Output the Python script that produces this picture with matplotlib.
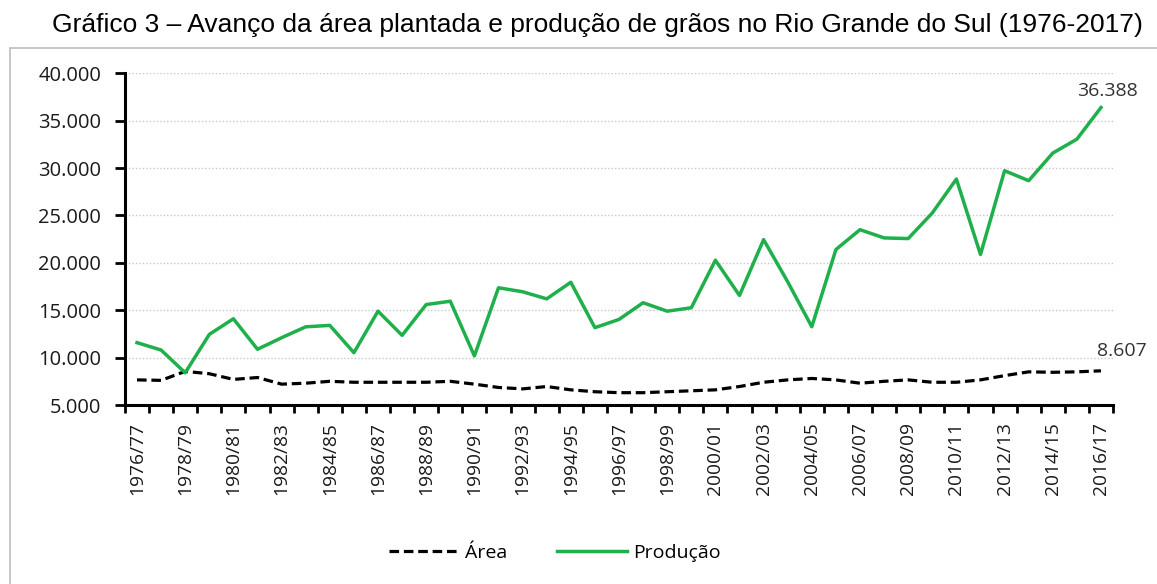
import numpy as np
import matplotlib
matplotlib.use('Agg')
import matplotlib.pyplot as plt
from matplotlib.patches import Rectangle
from matplotlib.ticker import FuncFormatter, FixedLocator

TITLE = 'Gráfico 3 – Avanço da área plantada e produção de grãos no Rio Grande do Sul (1976-2017)'

# safras 1976/77 .. 2016/17
SAFRAS = ['{}/{:02d}'.format(y, (y + 1) % 100) for y in range(1976, 2017)]

# mil hectares
AREA = [7650, 7600, 8550, 8300, 7700, 7900, 7200, 7300, 7500, 7400,
        7400, 7400, 7400, 7500, 7200, 6850, 6700, 6950, 6600, 6400,
        6300, 6300, 6400, 6500, 6600, 6950, 7400, 7650, 7800, 7650,
        7300, 7500, 7650, 7400, 7400, 7650, 8100, 8500, 8450, 8500,
        8607]

# mil toneladas
PRODUCAO = [11580, 10800, 8400, 12450, 14100, 10880, 12100, 13250, 13400, 10520,
            14900, 12350, 15600, 15950, 10180, 17370, 16950, 16200, 17950, 13160,
            14030, 15790, 14900, 15260, 20280, 16560, 22450, 18000, 13260, 21400,
            23500, 22630, 22560, 25260, 28840, 20880, 29720, 28670, 31580, 33050,
            36388]

GREEN = '#1fb04c'
FONT = 'Open Sans'

#------------------------------------------------------------------------------
def thousands(v, pos):
  return '{:,.0f}'.format(v).replace(',', '.')

#------------------------------------------------------------------------------
def main():
  fig = plt.figure(figsize=(11.57, 5.84), dpi=100)
  ax = fig.add_axes([0.108, 0.3065, 0.854, 0.568])

  x = np.arange(len(SAFRAS))
  ax.plot(x, AREA, color='black', lw=2.3, ls=(0, (3.0, 1.5)), label='Área')
  ax.plot(x, PRODUCAO, color=GREEN, lw=2.5, label='Produção')

  ax.annotate(thousands(PRODUCAO[-1], 0), (x[-1], PRODUCAO[-1]), xytext=(5, 12),
              textcoords='offset points', ha='center', va='center',
              fontsize=14, color='#333333', family=FONT)
  ax.annotate(thousands(AREA[-1], 0), (x[-1], AREA[-1]), xytext=(15, 14),
              textcoords='offset points', ha='center', va='center',
              fontsize=14, color='#333333', family=FONT)

  ax.set_xlim(-0.5, len(SAFRAS) - 0.5)
  ax.set_ylim(5000, 40000)
  ax.set_yticks(np.arange(5000, 40001, 5000))
  ax.yaxis.set_major_formatter(FuncFormatter(thousands))
  ax.yaxis.grid(True, color='#c8c8c8', ls=(0, (1, 1.5)), lw=1.0)
  ax.set_axisbelow(True)

  ax.xaxis.set_major_locator(FixedLocator(np.arange(-0.5, len(SAFRAS), 1)))
  ax.xaxis.set_minor_locator(FixedLocator(x[::2]))
  ax.set_xticklabels([])
  ax.set_xticklabels(SAFRAS[::2], minor=True, rotation=90, fontsize=13.8, family=FONT,
                     color='#1a1a1a')
  ax.tick_params(axis='x', which='major', length=6, width=2, direction='out')
  ax.tick_params(axis='x', which='minor', length=0, pad=12)
  ax.tick_params(axis='y', length=7, width=2, direction='out', labelsize=14.5,
                 labelcolor='#1a1a1a', pad=10)
  for lab in ax.get_yticklabels():
    lab.set_family(FONT)

  for side in ['top', 'right']:
    ax.spines[side].set_visible(False)
  for side in ['left', 'bottom']:
    ax.spines[side].set_linewidth(2.2)

  ax.legend(loc='center', bbox_to_anchor=(0.435, -0.446), ncol=2, frameon=False,
            prop={'family': FONT, 'size': 14}, handlelength=3.6,
            handletextpad=0.3, columnspacing=2.6)

  fig.text(0.516, 0.957, TITLE, ha='center', va='center', fontsize=19,
           family='Liberation Sans', color='black')

  fig.patches.append(Rectangle((0.009, -0.1), 1.2, 1.018, transform=fig.transFigure,
                               fill=False, edgecolor='#bdbdbd', lw=1.2, clip_on=False))

  fig.savefig('out.png', dpi=100)

#------------------------------------------------------------------------------
if __name__ == '__main__':
  main()
